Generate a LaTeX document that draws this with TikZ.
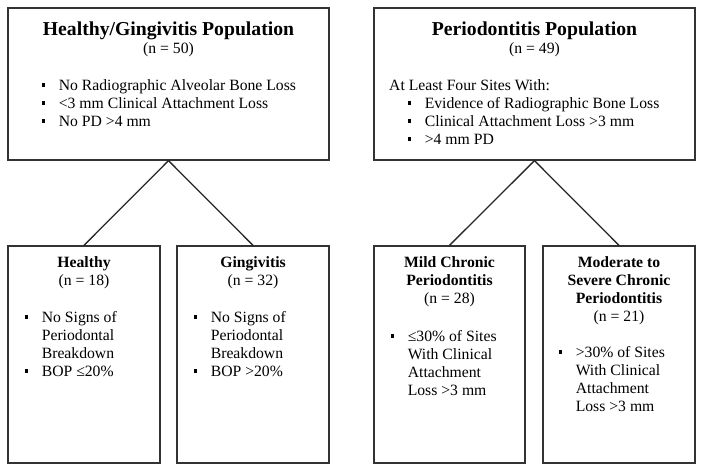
\documentclass[tikz,border=0pt]{standalone}
\usepackage{fontspec}
\setmainfont{Liberation Serif}
\usepackage{tikz}

\newcommand{\sqbul}{\rule[3.3pt]{3.6pt}{3.6pt}}
\newcommand{\bodyfont}{\fontsize{15.7}{18}\selectfont}
\newcommand{\headfont}{\fontsize{19.7}{22}\selectfont\bfseries}

\begin{document}
\begin{tikzpicture}
	[x=1pt,y=-1pt,every node/.style={font=\bodyfont,inner sep=0pt},
	box/.style={draw=black!80,line width=1.3pt,rectangle,minimum height=217pt,minimum width=152pt},
	bigbox/.style={box,minimum height=152pt,minimum width=321pt},
	link/.style={draw=black!85,line width=1.3pt}]
	\useasboundingbox (0,0) rectangle (704,472);

	\node[bigbox] (hg) at (168.5,84) {};
	\node[bigbox] (perio) at (534.5,84) {};
	\node[box] (healthy) at (84,354.5) {};
	\node[box] (ging) at (253,354.5) {};
	\node[box,minimum width=151pt] (mild) at (449.5,354.5) {};
	\node[box] (modsev) at (619,354.5) {};

	\foreach \from/\to in
	{hg/healthy, hg/ging, perio/mild, perio/modsev}
	\draw[link] (\from.south) -- (\to.north);

	% top left
	\node[anchor=base,font=\headfont] (hgtitle) at (168.5,35) {Healthy/Gingivitis Population};
	\node[anchor=base] (hgn) at (168.5,53) {(n = 50)};
	\node[anchor=base west] (hglist) at (41.5,90) {\begin{tabular}[t]{@{}l@{\hspace{13.5pt}}l@{}}
		\sqbul & No Radiographic Alveolar Bone Loss\\
		\sqbul & <3 mm Clinical Attachment Loss\\
		\sqbul & No PD >4 mm
	\end{tabular}};

	% top right
	\node[anchor=base,font=\headfont] (periotitle) at (534.5,35) {Periodontitis Population};
	\node[anchor=base] (perion) at (534.5,53) {(n = 49)};
	\node[anchor=base west] (periolist) at (389,90) {\begin{tabular}[t]{@{\hspace{18.5pt}}l@{\hspace{13.5pt}}l@{}}
		\multicolumn{2}{@{}l@{}}{At Least Four Sites With:}\\
		\sqbul & Evidence of Radiographic Bone Loss\\
		\sqbul & Clinical Attachment Loss >3 mm\\
		\sqbul & >4 mm PD
	\end{tabular}};

	% bottom row
	\node[anchor=base] (healthytitle) at (84,267) {\begin{tabular}[t]{@{}c@{}}
		\bfseries Healthy\\ (n = 18)
	\end{tabular}};
	\node[anchor=base west] (healthylist) at (24.5,322) {\begin{tabular}[t]{@{}l@{\hspace{13.5pt}}l@{}}
		\sqbul & No Signs of\\ & Periodontal\\ & Breakdown\\
		\sqbul & BOP ≤20\%
	\end{tabular}};

	\node[anchor=base] (gingtitle) at (253,267) {\begin{tabular}[t]{@{}c@{}}
		\bfseries Gingivitis\\ (n = 32)
	\end{tabular}};
	\node[anchor=base west] (ginglist) at (193.5,322) {\begin{tabular}[t]{@{}l@{\hspace{13.5pt}}l@{}}
		\sqbul & No Signs of\\ & Periodontal\\ & Breakdown\\
		\sqbul & BOP >20\%
	\end{tabular}};

	\node[anchor=base] (mildtitle) at (449.5,267) {\begin{tabular}[t]{@{}c@{}}
		\bfseries Mild Chronic\\ \bfseries Periodontitis\\ (n = 28)
	\end{tabular}};
	\node[anchor=base west] (mildlist) at (390.5,341) {\begin{tabular}[t]{@{}l@{\hspace{13.5pt}}l@{}}
		\sqbul & ≤30\% of Sites\\ & With Clinical\\ & Attachment\\ & Loss >3 mm
	\end{tabular}};

	\node[anchor=base] (modsevtitle) at (619,267) {\begin{tabular}[t]{@{}c@{}}
		\bfseries Moderate to\\ \bfseries Severe Chronic\\ \bfseries Periodontitis\\ (n = 21)
	\end{tabular}};
	\node[anchor=base west] (modsevlist) at (558.5,357) {\begin{tabular}[t]{@{}l@{\hspace{13.5pt}}l@{}}
		\sqbul & >30\% of Sites\\ & With Clinical\\ & Attachment\\ & Loss >3 mm
	\end{tabular}};
\end{tikzpicture}
\end{document}
